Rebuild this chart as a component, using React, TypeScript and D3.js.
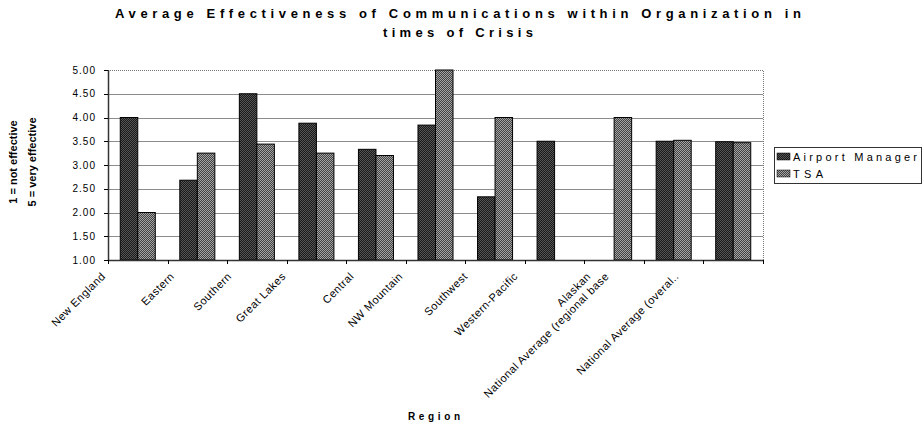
import * as d3 from 'd3';
import React, { useRef, useEffect } from 'react';

const regions = [
    'New England',
    'Eastern',
    'Southern',
    'Great Lakes',
    'Central',
    'NW Mountain',
    'Southwest',
    'Western-Pacific',
    'Alaskan',
    'National Average (regional base',
    'National Average (overal..',
];
const seriesNames = ['Airport Manager', 'TSA'];
const airportManager = [4.0, 2.68, 4.5, 3.88, 3.33, 3.84, 2.33, 3.5, null, 3.5, 3.49];
const tsa = [2.0, 3.25, 3.44, 3.25, 3.2, 5.0, 4.0, null, 4.0, 3.52, 3.47];
const yTicks = [1, 1.5, 2, 2.5, 3, 3.5, 4, 4.5, 5];
const titleLines = [
    'Average Effectiveness of Communications within Organization in',
    'times of Crisis',
];
const yTitleLines = ['1 = not effective', '5 = very effective'];
const xTitle = 'Region';

const W = 924;
const H = 425;
const FONT = '"Liberation Sans", Arial, sans-serif';

const App: React.FC = () => {
    const ref = useRef<SVGSVGElement | null>(null);

    useEffect(() => {
        const svg = d3.select(ref.current);
        svg.selectAll('*').remove();

        const left = 108,
            right = 763,
            top = 70,
            bottom = 260;

        // checker patterns for the bars
        const defs = svg.append('defs');
        const pats = [
            { id: 'pAM', a: '#1a1a1a', b: '#555' },
            { id: 'pTSA', a: '#424242', b: '#a4a4a4' },
        ];
        pats.forEach((p) => {
            const pat = defs
                .append('pattern')
                .attr('id', p.id)
                .attr('width', 2)
                .attr('height', 2)
                .attr('patternUnits', 'userSpaceOnUse');
            pat.append('rect').attr('width', 2).attr('height', 2).attr('fill', p.a);
            pat.append('rect').attr('width', 1).attr('height', 1).attr('fill', p.b);
            pat.append('rect').attr('x', 1).attr('y', 1).attr('width', 1).attr('height', 1).attr('fill', p.b);
        });
        const fills = ['url(#pAM)', 'url(#pTSA)'];

        const x0 = d3.scaleBand().domain(regions).range([left, right]).padding(0);
        const x1 = d3
            .scaleBand()
            .domain(seriesNames)
            .range([0, x0.bandwidth()])
            .paddingInner(0)
            .paddingOuter(0.7);
        const y = d3.scaleLinear().domain([1, 5]).range([bottom, top]);

        svg.append('rect').attr('width', W).attr('height', H).attr('fill', '#fff');

        // gridlines
        svg.append('g')
            .selectAll('line')
            .data(yTicks.filter((t) => t > 1 && t < 5))
            .join('line')
            .attr('x1', left)
            .attr('x2', right)
            .attr('y1', (d) => Math.round(y(d)) + 0.5)
            .attr('y2', (d) => Math.round(y(d)) + 0.5)
            .attr('stroke', '#8c8c8c');

        // plot border (top & right, dotted)
        svg.append('path')
            .attr('d', `M${left},${top + 0.5}H${right + 0.5}V${bottom}`)
            .attr('fill', 'none')
            .attr('stroke', '#777')
            .attr('stroke-dasharray', '1,1');

        // bars
        const series = [airportManager, tsa];
        const g = svg.append('g');
        series.forEach((vals, si) => {
            g.selectAll(`rect.s${si}`)
                .data(regions.map((r, i) => ({ r, v: vals[i] })).filter((d) => d.v != null))
                .join('rect')
                .attr('class', `s${si}`)
                .attr('x', (d) => (x0(d.r) as number) + (x1(seriesNames[si]) as number))
                .attr('y', (d) => y(d.v as number))
                .attr('width', x1.bandwidth())
                .attr('height', (d) => bottom - y(d.v as number))
                .attr('fill', fills[si])
                .attr('stroke', '#000')
                .attr('stroke-width', 1);
        });

        // y axis
        const ya = svg.append('g');
        ya.append('line')
            .attr('x1', left + 0.5)
            .attr('x2', left + 0.5)
            .attr('y1', top)
            .attr('y2', bottom)
            .attr('stroke', '#333')
            .attr('stroke-width', 1.5);
        ya.selectAll('line.tk')
            .data(yTicks)
            .join('line')
            .attr('class', 'tk')
            .attr('x1', left - 4)
            .attr('x2', left)
            .attr('y1', (d) => Math.round(y(d)) + 0.5)
            .attr('y2', (d) => Math.round(y(d)) + 0.5)
            .attr('stroke', '#000');
        ya.selectAll('text')
            .data(yTicks)
            .join('text')
            .attr('x', 96)
            .attr('y', (d) => y(d))
            .attr('dy', '0.35em')
            .attr('text-anchor', 'end')
            .attr('font-size', 10)
            .attr('letter-spacing', 1)
            .text((d) => d3.format('.2f')(d));

        // x axis
        const xa = svg.append('g');
        xa.append('line')
            .attr('x1', left)
            .attr('x2', right)
            .attr('y1', bottom + 0.5)
            .attr('y2', bottom + 0.5)
            .attr('stroke', '#333')
            .attr('stroke-width', 1.5);
        xa.selectAll('line.tk')
            .data([...regions.map((r) => x0(r) as number), right])
            .join('line')
            .attr('class', 'tk')
            .attr('x1', (d) => Math.round(d) + 0.5)
            .attr('x2', (d) => Math.round(d) + 0.5)
            .attr('y1', bottom)
            .attr('y2', bottom + 4)
            .attr('stroke', '#000');
        // rotated labels: right end shifts left with label length (as Excel lays them out)
        xa.selectAll('text')
            .data(regions)
            .join('text')
            .attr('text-anchor', 'end')
            .attr('font-size', 11)
            .attr('letter-spacing', 0.5)
            .text((d) => d)
            .each(function (d) {
                const len = (this as SVGTextElement).getComputedTextLength();
                const cx = (x0(d) as number) + x0.bandwidth() / 2;
                d3.select(this).attr(
                    'transform',
                    `translate(${cx - 9 - 0.32 * len},${277}) rotate(-45)`
                );
            });

        // titles
        svg.append('g')
            .selectAll('text')
            .data(titleLines)
            .join('text')
            .attr('x', 458)
            .attr('y', (d, i) => 18 + i * 19)
            .attr('text-anchor', 'middle')
            .attr('font-size', 13)
            .attr('font-weight', 'bold')
            .attr('textLength', (d, i) => (i === 0 ? 686 : 150))
            .attr('lengthAdjust', 'spacing')
            .text((d) => d);

        svg.append('g')
            .selectAll('text')
            .data(yTitleLines)
            .join('text')
            .attr('transform', (d, i) => `translate(${17 + i * 19},162) rotate(-90)`)
            .attr('text-anchor', 'middle')
            .attr('font-size', 11)
            .attr('font-weight', 'bold')
            .text((d) => d);

        svg.append('text')
            .attr('x', 434)
            .attr('y', 420)
            .attr('text-anchor', 'middle')
            .attr('font-size', 10)
            .attr('font-weight', 'bold')
            .attr('textLength', 52)
            .attr('lengthAdjust', 'spacing')
            .text(xTitle);

        // legend
        const lg = svg.append('g');
        lg.append('rect')
            .attr('x', 774.5)
            .attr('y', 147.5)
            .attr('width', 147)
            .attr('height', 36)
            .attr('fill', '#fff')
            .attr('stroke', '#333');
        seriesNames.forEach((s, i) => {
            lg.append('rect')
                .attr('x', 777)
                .attr('y', 153 + i * 17)
                .attr('width', 13)
                .attr('height', 7)
                .attr('fill', fills[i])
                .attr('stroke', '#000')
                .attr('stroke-width', 0.5);
            lg.append('text')
                .attr('x', 793)
                .attr('y', 157 + i * 17)
                .attr('dy', '0.35em')
                .attr('font-size', 11)
                .attr('textLength', i === 0 ? 124 : 30)
                .attr('lengthAdjust', 'spacing')
                .text(s);
        });
    }, []);

    return (
        <svg
            ref={ref}
            width={W}
            height={H}
            fontFamily={FONT}
            style={{ position: 'absolute', left: 0, top: 0 }}
        />
    );
};

export default App;
